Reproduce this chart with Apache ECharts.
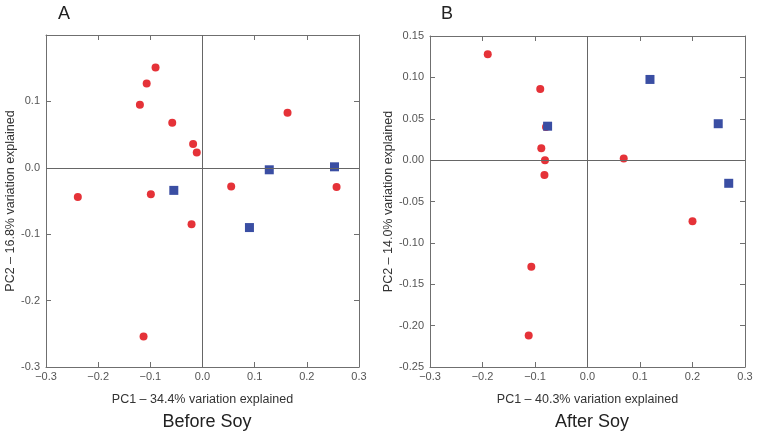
<!DOCTYPE html>
<html><head><meta charset="utf-8">
<script src="https://cdn.jsdelivr.net/npm/echarts@6/dist/echarts.min.js"></script>
<style>html,body{margin:0;padding:0;background:#fff}#c{width:757px;height:434px}</style>
</head><body><div id="c"></div>
<script>
// Panel A: Before Soy
const beforeRed = [[-0.239,-0.044],[-0.090,0.151],[-0.107,0.127],[-0.120,0.095],[-0.058,0.068],[-0.018,0.036],[-0.011,0.023],[-0.099,-0.040],[0.163,0.083],[0.055,-0.028],[0.257,-0.029],[-0.021,-0.085],[-0.113,-0.254]];
const beforeBlue = [[-0.055,-0.034],[0.128,-0.003],[0.253,0.0015],[0.090,-0.090]];
// Panel B: After Soy
const afterRed = [[-0.190,0.128],[-0.090,0.086],[-0.079,0.040],[-0.088,0.0145],[-0.081,0.0],[-0.082,-0.018],[0.069,0.002],[0.200,-0.074],[-0.107,-0.129],[-0.112,-0.212]];
const afterBlue = [[-0.076,0.041],[0.119,0.0975],[0.249,0.044],[0.269,-0.028]];
const xTicks = [-0.3,-0.2,-0.1,0.0,0.1,0.2,0.3];
const yTicksA = [-0.3,-0.2,-0.1,0.0,0.1];
const yTicksB = [-0.25,-0.20,-0.15,-0.10,-0.05,0.00,0.05,0.10,0.15];
const xNameA = 'PC1 – 34.4% variation explained';
const yNameA = 'PC2 – 16.8% variation explained';
const xNameB = 'PC1 – 40.3% variation explained';
const yNameB = 'PC2 – 14.0% variation explained';

const FONT = 'Liberation Sans, Arial, sans-serif';
const RED = '#e53238', BLUE = '#3a4ea3';
const lineC = '#6f6f6f';
function fmtX(v){ const s = v.toFixed(1); return s.replace('-', '\u2212'); }
function baseX(gi, pos, show, name){
  return {type:'value', gridIndex:gi, position:pos, min:-0.3, max:0.3, interval:0.1,
    axisLine:{show:true, onZero:false, lineStyle:{color:lineC}},
    axisTick:{show:true, inside:true, length:5, lineStyle:{color:lineC}},
    axisLabel:{show:show, formatter:fmtX, color:'#555', fontFamily:FONT, fontSize:11, margin:4},
    splitLine:{show:false},
    name: name||'', nameLocation:'middle', nameGap:26,
    nameTextStyle:{color:'#333', fontFamily:FONT, fontSize:12.5}};
}
function baseY(gi, pos, show, min, max, interval, dec, name, gap, hideTop){
  return {type:'value', gridIndex:gi, position:pos, min:min, max:max, interval:interval,
    axisLine:{show:true, onZero:false, lineStyle:{color:lineC}},
    axisTick:{show:true, inside:true, length:5, lineStyle:{color:lineC}},
    axisLabel:{show:show, color:'#555', fontFamily:FONT, fontSize:11, margin:6,
      formatter:function(v){ if(hideTop && Math.abs(v-max)<1e-9) return ''; return v.toFixed(dec); }},
    splitLine:{show:false},
    name: name||'', nameLocation:'middle', nameGap:gap||30,
    nameTextStyle:{color:'#333', fontFamily:FONT, fontSize:12.5}};
}
const zeroLines = {silent:true, symbol:'none', label:{show:false}, animation:false,
  lineStyle:{color:'#666', width:1, type:'solid'}, data:[{xAxis:0},{yAxis:0}]};

const chart = echarts.init(document.getElementById('c'));
chart.setOption({
  animation:false,
  grid:[{left:46, right:398, top:35, bottom:67},{left:430, right:12, top:36, bottom:67}],
  xAxis:[baseX(0,'bottom',true,xNameA), baseX(0,'top',false), baseX(1,'bottom',true,xNameB), baseX(1,'top',false)],
  yAxis:[baseY(0,'left',true,-0.3,0.2,0.1,1,yNameA,29,true), baseY(0,'right',false,-0.3,0.2,0.1,1),
         baseY(1,'left',true,-0.25,0.15,0.05,2,yNameB,35,false), baseY(1,'right',false,-0.25,0.15,0.05,2)],
  title:[
    {text:'A', left:53, top:0, textStyle:{fontFamily:FONT, fontSize:18, fontWeight:'normal', color:'#222'}},
    {text:'B', left:436, top:0, textStyle:{fontFamily:FONT, fontSize:18, fontWeight:'normal', color:'#222'}},
    {text:'Before Soy', left:202, top:408, textAlign:'center', textStyle:{fontFamily:FONT, fontSize:18, fontWeight:'normal', color:'#222'}},
    {text:'After Soy', left:587, top:408, textAlign:'center', textStyle:{fontFamily:FONT, fontSize:18, fontWeight:'normal', color:'#222'}}
  ],
  series:[
    {type:'scatter', xAxisIndex:0, yAxisIndex:0, data:beforeRed, symbol:'circle', symbolSize:8, itemStyle:{color:RED, opacity:1}, markLine:zeroLines, z:3},
    {type:'scatter', xAxisIndex:0, yAxisIndex:0, data:beforeBlue, symbol:'rect', symbolSize:9, itemStyle:{color:BLUE, opacity:1}, z:4},
    {type:'scatter', xAxisIndex:2, yAxisIndex:2, data:afterRed, symbol:'circle', symbolSize:8, itemStyle:{color:RED, opacity:1}, markLine:zeroLines, z:3},
    {type:'scatter', xAxisIndex:2, yAxisIndex:2, data:afterBlue, symbol:'rect', symbolSize:9, itemStyle:{color:BLUE, opacity:1}, z:4}
  ]
});
</script></body></html>
